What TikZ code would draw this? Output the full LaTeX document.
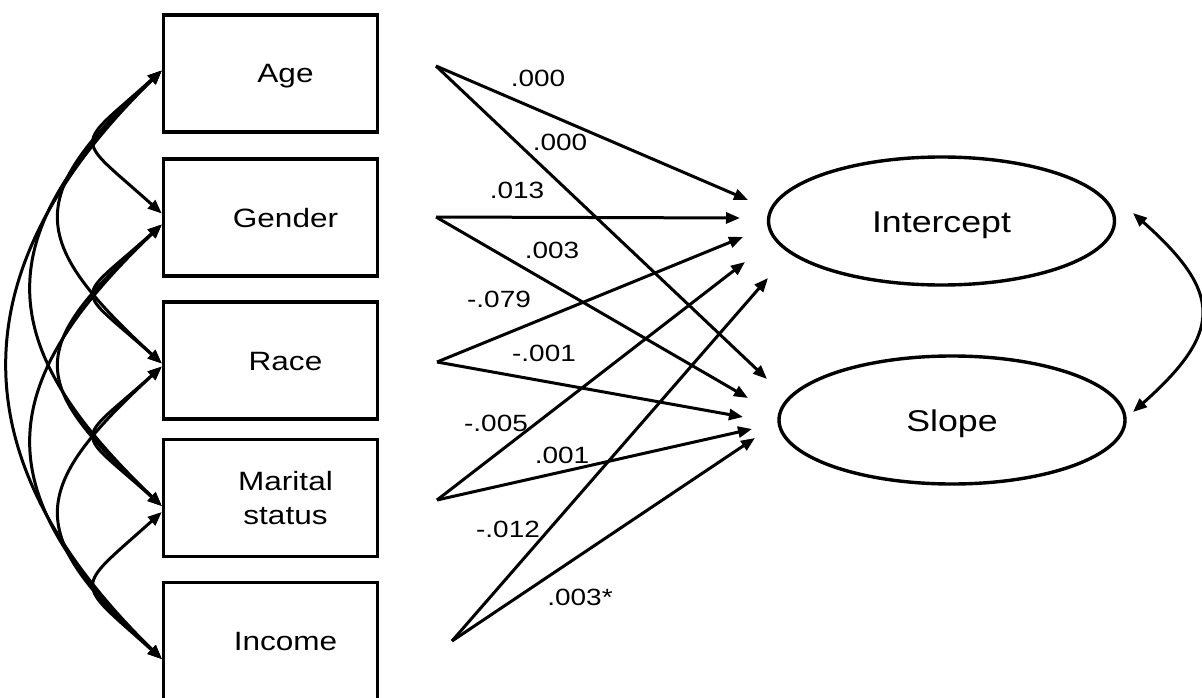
\documentclass[tikz,border=0pt]{standalone}
\usepackage{fontspec}
\setmainfont{Liberation Sans}[FakeStretch=1.19]
\usetikzlibrary{arrows.meta,shapes.geometric}
\begin{document}
\begin{tikzpicture}[x=1pt,y=-1pt,
  box/.style={draw,line width=3.4pt,minimum width=214pt,minimum height=117pt,inner sep=0pt,
    font=\fontsize{26.5}{34}\selectfont,text height=19pt,text depth=0pt,align=center},
  lat/.style={draw,ellipse,line width=3.4pt,minimum width=346pt,minimum height=128pt,inner sep=0pt,
    font=\fontsize{30}{36}\selectfont,text height=22pt,text depth=0pt},
  regpath/.style={line width=3pt,-{Triangle[length=14pt,width=11pt]}},
  cov/.style={line width=3pt,{Triangle[length=14pt,width=11pt]}-{Triangle[length=14pt,width=11pt]}},
  lab/.style={font=\fontsize{23.5}{28}\selectfont,inner sep=0pt}
]
\useasboundingbox (0,0) rectangle (1202,698);
\newcommand\pad{\hspace*{30pt}}

% observed variables
\node[box] (age)  at (270.5,73.5)  {\pad Age};
\node[box] (gen)  at (270.5,217.5) {\pad Gender};
\node[box] (race) at (270.5,360.5) {\pad Race};
\node[box,text height={},text depth={}] (mar) at (270.5,498) {\pad Marital\\\pad status};
\node[box] (inc)  at (270.5,641)   {\pad Income};

% latent growth factors
\node[lat] (int) at (941.5,221) {Intercept};
\node[lat] (slo) at (952,420)   {Slope};

% covariance end points on the boxes
\coordinate (pa)  at ([yshift=3pt]age.west);
\coordinate (pg1) at ([yshift=4pt]gen.west);
\coordinate (pg2) at ([yshift=-7pt]gen.west);
\coordinate (pr1) at ([yshift=-3pt]race.west);
\coordinate (pr2) at ([yshift=-6pt]race.west);
\coordinate (pm1) at ([yshift=-8pt]mar.west);
\coordinate (pm2) at ([yshift=-14pt]mar.west);
\coordinate (pi)  at ([yshift=-18pt]inc.west);

% covariances among predictors
\draw[cov] (pa)  .. controls +(-89,80)   and +(-89,-80)   .. (pg1);
\draw[cov] (pa)  .. controls +(-136,125) and +(-136,-125) .. (pr1);
\draw[cov] (pa)  .. controls +(-173,165) and +(-173,-165) .. (pm1);
\draw[cov] (pa)  .. controls +(-205,200) and +(-205,-200) .. (pi);
\draw[cov] (pg2) .. controls +(-89,80)   and +(-89,-80)   .. (pr1);
\draw[cov] (pg2) .. controls +(-136,125) and +(-136,-125) .. (pm1);
\draw[cov] (pg2) .. controls +(-173,165) and +(-173,-165) .. (pi);
\draw[cov] (pr2) .. controls +(-89,80)   and +(-89,-80)   .. (pm1);
\draw[cov] (pr2) .. controls +(-136,125) and +(-136,-125) .. (pi);
\draw[cov] (pm2) .. controls +(-89,80)   and +(-89,-80)   .. (pi);

% path sources
\coordinate (sa) at (436,66);
\coordinate (sg) at (436,217);
\coordinate (sr) at (437,362);
\coordinate (sm) at (437,500);
\coordinate (si) at (452,641);
% path targets
\coordinate (ia) at (748,200);
\coordinate (ig) at (740,218);
\coordinate (ir) at (743,237);
\coordinate (im) at (745,262);
\coordinate (ii) at (768,278);
\coordinate (ta) at (767,379);
\coordinate (tg) at (748,398);
\coordinate (tr) at (743,417);
\coordinate (tm) at (752,429);
\coordinate (ti) at (755,438);

\draw[regpath] (sa) -- (ia);
\draw[regpath] (sa) -- (ta);
\draw[regpath] (sg) -- (ig);
\draw[regpath] (sg) -- (tg);
\draw[regpath] (sr) -- (ir);
\draw[regpath] (sr) -- (tr);
\draw[regpath] (sm) -- (im);
\draw[regpath] (sm) -- (tm);
\draw[regpath] (si) -- (ii);
\draw[regpath] (si) -- (ti);

% intercept-slope covariance
\coordinate (ci) at (1133,213);
\coordinate (cs) at (1133,412);
\draw[cov] (ci) .. controls +(90,80) and +(90,-80) .. (cs);

% coefficients
\node[lab] (l1)  at (538,78)  {.000};
\node[lab] (l2)  at (560,142) {.000};
\node[lab] (l3)  at (517,190) {.013};
\node[lab] (l4)  at (552,250) {.003};
\node[lab] (l5)  at (499,299) {-.079};
\node[lab] (l6)  at (544,353) {-.001};
\node[lab] (l7)  at (496,423) {-.005};
\node[lab] (l8)  at (562,455) {.001};
\node[lab] (l9)  at (508,529) {-.012};
\node[lab] (l10) at (580,597) {.003*};
\end{tikzpicture}
\end{document}
